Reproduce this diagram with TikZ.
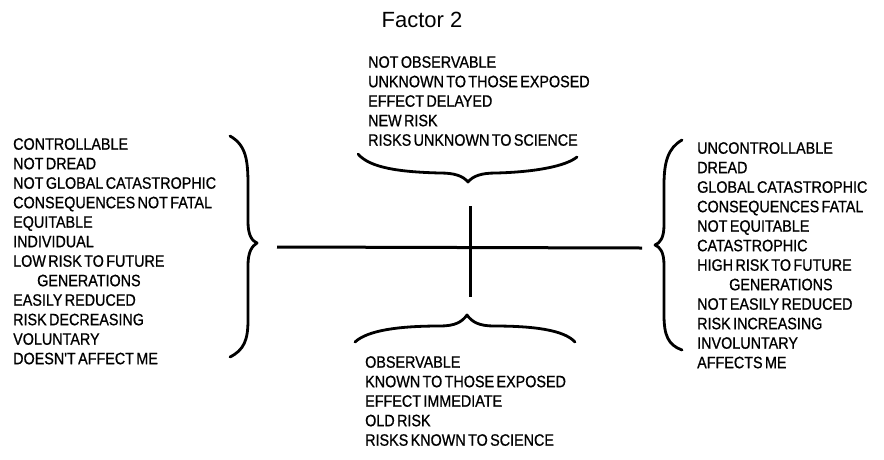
\documentclass[tikz,border=0pt]{standalone}
\usepackage{fontspec}
\setmainfont{Liberation Sans}
\newfontfamily\listfont[FakeStretch=0.87, FakeBold=0.8, WordSpace=0.6]{Liberation Sans}

\begin{document}
\begin{tikzpicture}[x=1pt, y=-1pt,
  factorlist/.style={anchor=north west, inner sep=0pt, align=left,
    font=\listfont\fontsize{16.5}{19.5}\selectfont},
  bracket/.style={line width=2.8pt, line cap=round, line join=round},
  axisline/.style={line width=3pt}]

  \useasboundingbox (0,0) rectangle (884,459);

  % ==========================================
  % Title
  % ==========================================
  \node[font=\fontsize{22}{26}\selectfont, anchor=base] (factor) at (422,27) {Factor 2};

  % ==========================================
  % Axes
  % ==========================================
  \coordinate (hleft) at (277,247);
  \coordinate (hright) at (642,248);
  \coordinate (vtop) at (470,206);
  \coordinate (vbot) at (470,297);
  \draw[axisline] (hleft) -- (hright);
  \draw[axisline] (vtop) -- (vbot);

  % ==========================================
  % Lists of risk characteristics
  % ==========================================
  \node[factorlist] (leftlist) at (13,138) {CONTROLLABLE\\
    NOT DREAD\\
    NOT GLOBAL CATASTROPHIC\\
    CONSEQUENCES NOT FATAL\\
    EQUITABLE\\
    INDIVIDUAL\\
    LOW RISK TO FUTURE\\
    \hspace*{24pt}GENERATIONS\\
    EASILY REDUCED\\
    RISK DECREASING\\
    VOLUNTARY\\
    DOESN'T AFFECT ME};

  \node[factorlist] (rightlist) at (697,142) {UNCONTROLLABLE\\
    DREAD\\
    GLOBAL CATASTROPHIC\\
    CONSEQUENCES FATAL\\
    NOT EQUITABLE\\
    CATASTROPHIC\\
    HIGH RISK TO FUTURE\\
    \hspace*{32pt}GENERATIONS\\
    NOT EASILY REDUCED\\
    RISK INCREASING\\
    INVOLUNTARY\\
    AFFECTS ME};

  \node[factorlist] (toplist) at (368,56) {NOT OBSERVABLE\\
    UNKNOWN TO THOSE EXPOSED\\
    EFFECT DELAYED\\
    NEW RISK\\
    RISKS UNKNOWN TO SCIENCE};

  \node[factorlist] (bottomlist) at (365,356) {OBSERVABLE\\
    KNOWN TO THOSE EXPOSED\\
    EFFECT IMMEDIATE\\
    OLD RISK\\
    RISKS KNOWN TO SCIENCE};

  % ==========================================
  % Braces
  % ==========================================
  % left
  \draw[bracket] (230,136) .. controls (246,145) and (248,160) .. (248,185)
    -- (248,222) .. controls (248,235) and (252,241) .. (257,243)
    .. controls (252,246) and (248,252) .. (248,265)
    -- (248,320) .. controls (248,340) and (244,350) .. (230,357);
  % right
  \draw[bracket] (682,140) .. controls (668,148) and (664,162) .. (664,185)
    -- (664,225) .. controls (664,238) and (660,243) .. (655,245)
    .. controls (660,247) and (664,252) .. (664,265)
    -- (664,315) .. controls (664,335) and (668,345) .. (682,350);
  % top
  \draw[bracket] (358,154) .. controls (370,168) and (400,172) .. (440,173)
    .. controls (455,173) and (463,176) .. (468,182)
    .. controls (473,176) and (481,173) .. (496,173)
    .. controls (536,172) and (566,166) .. (577,157);
  % bottom
  \draw[bracket] (355,342) .. controls (368,330) and (400,326) .. (440,326)
    .. controls (455,326) and (462,322) .. (467,315)
    .. controls (472,322) and (479,326) .. (494,326)
    .. controls (534,326) and (564,330) .. (575,342);

\end{tikzpicture}
\end{document}
